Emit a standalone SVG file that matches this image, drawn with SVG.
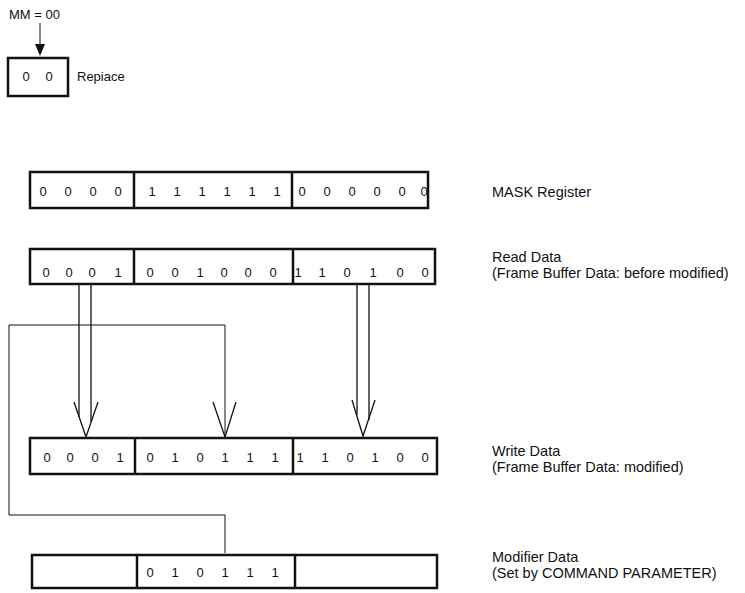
<svg xmlns="http://www.w3.org/2000/svg" width="745" height="593" viewBox="0 0 745 593">
<style>
text{font-family:"Liberation Sans",Arial,sans-serif;fill:#111}
.d{font-size:13px;text-anchor:middle}
.s{font-size:13px}
.l{font-size:14.5px}
.box{fill:none;stroke:#111;stroke-width:2.5}
.div{stroke:#111;stroke-width:2.5}
.c{fill:none;stroke:#111;stroke-width:1}
.a{fill:none;stroke:#111;stroke-width:1.3}
</style>
<rect width="745" height="593" fill="#fff"/>
<g id="mode">
<text class="s" x="9" y="19">MM = 00</text>
<rect class="box" x="8" y="58" width="60" height="38"/>
<text class="d" x="26" y="81">0</text>
<text class="d" x="49" y="81">0</text>
<text class="s" x="77" y="81">Repiace</text>
</g>
<g id="mask">
<rect class="box" x="30" y="172" width="398" height="36"/>
<line class="div" x1="134" y1="172" x2="134" y2="208"/>
<line class="div" x1="292" y1="172" x2="292" y2="208"/>
<text class="d" x="43" y="196">0</text><text class="d" x="68" y="196">0</text><text class="d" x="93" y="196">0</text><text class="d" x="118" y="196">0</text>
<text class="d" x="152" y="196">1</text><text class="d" x="177" y="196">1</text><text class="d" x="202" y="196">1</text><text class="d" x="227" y="196">1</text><text class="d" x="252" y="196">1</text><text class="d" x="277" y="196">1</text>
<text class="d" x="302" y="196">0</text><text class="d" x="327" y="196">0</text><text class="d" x="352" y="196">0</text><text class="d" x="377" y="196">0</text><text class="d" x="402" y="196">0</text><text class="d" x="424" y="196">0</text>
<text class="l" x="492" y="197">MASK Register</text>
</g>
<g id="read">
<rect class="box" x="30" y="249" width="405" height="35"/>
<line class="div" x1="134" y1="249" x2="134" y2="284"/>
<line class="div" x1="293" y1="249" x2="293" y2="284"/>
<text class="d" x="46" y="277">0</text><text class="d" x="69" y="277">0</text><text class="d" x="92" y="277">0</text><text class="d" x="118" y="277">1</text>
<text class="d" x="150" y="277">0</text><text class="d" x="175" y="277">0</text><text class="d" x="200" y="277">1</text><text class="d" x="224" y="277">0</text><text class="d" x="248" y="277">0</text><text class="d" x="273" y="277">0</text>
<text class="d" x="298" y="277">1</text><text class="d" x="322" y="277">1</text><text class="d" x="347" y="277">0</text><text class="d" x="373" y="277">1</text><text class="d" x="400" y="277">0</text><text class="d" x="425" y="277">0</text>
<text class="l" x="492" y="262">Read Data</text>
<text class="l" x="492" y="278">(Frame Buffer Data: before modified)</text>
</g>
<g id="write">
<rect class="box" x="30" y="438" width="407" height="36"/>
<line class="div" x1="135" y1="438" x2="135" y2="474"/>
<line class="div" x1="293" y1="438" x2="293" y2="474"/>
<text class="d" x="47" y="462">0</text><text class="d" x="70" y="462">0</text><text class="d" x="95" y="462">0</text><text class="d" x="120" y="462">1</text>
<text class="d" x="150" y="462">0</text><text class="d" x="175" y="462">1</text><text class="d" x="200" y="462">0</text><text class="d" x="225" y="462">1</text><text class="d" x="250" y="462">1</text><text class="d" x="275" y="462">1</text>
<text class="d" x="300" y="462">1</text><text class="d" x="325" y="462">1</text><text class="d" x="350" y="462">0</text><text class="d" x="375" y="462">1</text><text class="d" x="400" y="462">0</text><text class="d" x="425" y="462">0</text>
<text class="l" x="492" y="456">Write Data</text>
<text class="l" x="492" y="472">(Frame Buffer Data: modified)</text>
</g>
<g id="modifier">
<rect class="box" x="32" y="555" width="405" height="33"/>
<line class="div" x1="137" y1="555" x2="137" y2="588"/>
<line class="div" x1="295" y1="555" x2="295" y2="588"/>
<text class="d" x="150" y="577">0</text><text class="d" x="175" y="577">1</text><text class="d" x="200" y="577">0</text><text class="d" x="225" y="577">1</text><text class="d" x="250" y="577">1</text><text class="d" x="275" y="577">1</text>
<text class="l" x="492" y="562">Modifier Data</text>
<text class="l" x="492" y="578">(Set by COMMAND PARAMETER)</text>
</g>
<g id="connectors">
<line class="c" x1="40" y1="23" x2="40" y2="45" stroke-width="1.5"/>
<polygon points="35,44 45,44 40,56" fill="#111"/>
<line class="a" x1="79" y1="285" x2="79" y2="417"/>
<line class="a" x1="91" y1="285" x2="91" y2="422"/>
<polyline class="a" points="74,402 86,437 98,402"/>
<line class="a" x1="357" y1="285" x2="357" y2="415"/>
<line class="a" x1="369" y1="285" x2="369" y2="420"/>
<polyline class="a" points="352,400 363,436 375,400"/>
<polyline class="c" points="225,553 225,515 9,515 9,325 225,325 225,437"/>
<polyline class="a" points="213,402 225,437 236,402"/>
</g>
</svg>
